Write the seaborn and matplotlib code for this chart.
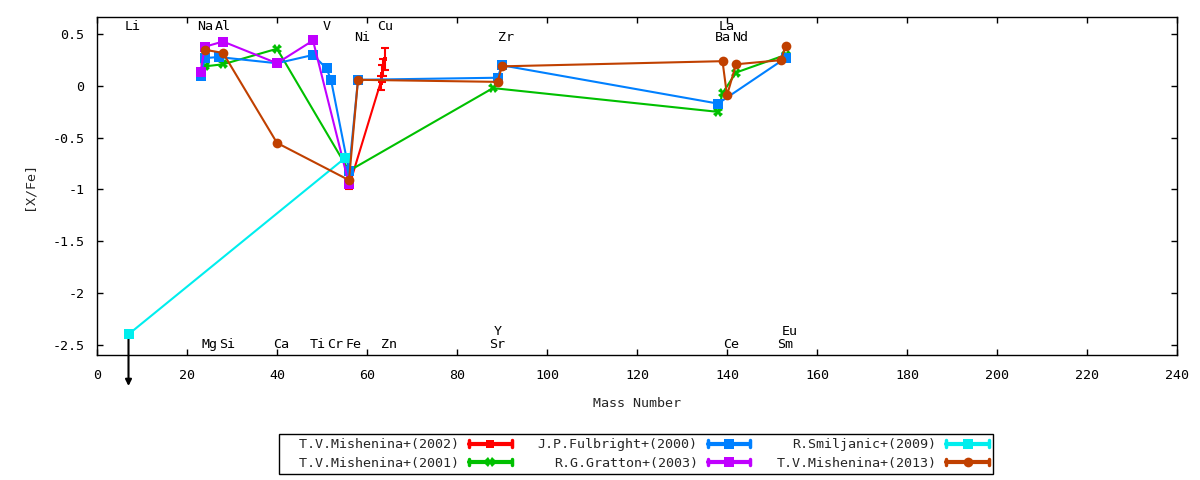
import matplotlib
matplotlib.use("Agg")
import matplotlib.pyplot as plt
import seaborn as sns
import pandas as pd
from matplotlib.lines import Line2D
from matplotlib.legend_handler import HandlerBase

# ---------------- data ----------------
mish2002_x = [56, 63, 63.3, 63.6, 64]
mish2002_y = [-0.97, 0.03, 0.12, 0.18, 0.26]
mish2002_err = [0.03, 0.07, 0.08, 0.08, 0.11]

mish2001_x = [24, 28, 40, 56, 88, 138, 139, 142, 153]
mish2001_y = [0.19, 0.21, 0.36, -0.82, -0.02, -0.25, -0.07, 0.13, 0.30]

fulb_x = [23, 24, 27, 40, 48, 51, 52, 56, 58, 89, 90, 138, 153]
fulb_y = [0.10, 0.27, 0.28, 0.22, 0.30, 0.17, 0.06, -0.82, 0.06, 0.08, 0.20, -0.17, 0.27]

grat_x = [23, 24, 28, 40, 48, 56]
grat_y = [0.14, 0.38, 0.43, 0.22, 0.44, -0.95]

smil_x = [7, 55]
smil_y = [-2.40, -0.70]
smil_limit_to = -2.90  # upper limit arrow for Li

mish2013_x = [24, 28, 40, 56, 58, 89, 90, 139, 140, 142, 152, 153]
mish2013_y = [0.35, 0.32, -0.55, -0.91, 0.06, 0.04, 0.19, 0.24, -0.09, 0.21, 0.25, 0.39]

labels = ["T.V.Mishenina+(2002)", "T.V.Mishenina+(2001)", "J.P.Fulbright+(2000)",
          "R.G.Gratton+(2003)", "R.Smiljanic+(2009)", "T.V.Mishenina+(2013)"]

elem_names = ["Li", "Na", "Al", "V", "Cu", "La", "Ni", "Zr", "Ba", "Nd",
              "Mg", "Si", "Ca", "Ti", "Cr", "Fe", "Zn", "Sr", "Ce", "Sm", "Y", "Eu"]
elem_mass = [7, 23, 27, 51, 63, 139, 58, 90, 138, 142,
             24, 28, 40, 48, 52, 56, 64, 88, 140, 152, 89, 153]
elem_ypos = [0.58, 0.58, 0.58, 0.58, 0.58, 0.58, 0.47, 0.47, 0.47, 0.47,
             -2.5, -2.5, -2.5, -2.5, -2.5, -2.5, -2.5, -2.5, -2.5, -2.5, -2.37, -2.37]

xticks = list(range(0, 241, 20))
yticks = [0.5, 0, -0.5, -1, -1.5, -2, -2.5]

# ---------------- style ----------------
sns.set_style("ticks")
plt.rcParams["font.family"] = ["DejaVu Sans Mono", "DejaVu Sans"]
plt.rcParams["axes.unicode_minus"] = False
FS = 9.6

colors = ["#ff0000", "#00c000", "#0080ff", "#c000ff", "#00eeee", "#c04000"]
markers = ["s", "X", "s", "s", "s", "o"]
msizes = [3.5, 7, 7, 7, 7, 7]

fig = plt.figure(figsize=(12, 4.8), dpi=100)
ax = fig.add_axes([97 / 1200, 1 - 355 / 480, 1080 / 1200, (355 - 17) / 480])

series = [(mish2002_x, mish2002_y), (mish2001_x, mish2001_y), (fulb_x, fulb_y),
          (grat_x, grat_y), (smil_x, smil_y), (mish2013_x, mish2013_y)]

for i, (xs, ys) in enumerate(series):
    df = pd.DataFrame({"x": xs, "y": ys})
    sns.lineplot(data=df, x="x", y="y", sort=False, estimator=None, ax=ax,
                 color=colors[i], marker=markers[i], markersize=msizes[i],
                 markeredgewidth=0, linewidth=1.5, legend=False, zorder=2 + i)
    if i == 0:
        ax.errorbar(xs, ys, yerr=mish2002_err, fmt="none", ecolor=colors[0],
                    elinewidth=1.5, capsize=3, capthick=1.5, zorder=2)

# Li upper-limit arrow
ax.annotate("", xy=(smil_x[0], smil_limit_to), xytext=(smil_x[0], smil_y[0]),
            arrowprops=dict(arrowstyle="-|>", color="black", lw=1.5,
                            shrinkA=0, shrinkB=0, mutation_scale=9),
            annotation_clip=False, zorder=1)

# element labels
for name, m, yp in zip(elem_names, elem_mass, elem_ypos):
    ax.text(m - 0.8, yp, name, ha="left", va="center", fontsize=FS, color="black")

ax.set_xlim(0, 240)
ax.set_ylim(-2.6, 0.667)
ax.set_xticks(xticks)
ax.set_yticks(yticks)
ax.set_yticklabels([("%g" % v) for v in yticks])
ax.tick_params(direction="in", top=True, right=True, length=4, width=1,
               labelsize=FS, colors="black")
ax.tick_params(axis="x", pad=10)
ax.tick_params(axis="y", pad=9)
for s in ax.spines.values():
    s.set_visible(True)
    s.set_color("black")
    s.set_linewidth(1)
ax.set_xlabel("Mass Number", fontsize=FS, labelpad=11)
ax.set_ylabel("[X/Fe]", fontsize=FS, labelpad=12)


# legend with gnuplot-like error-bar samples
class CapHandler(HandlerBase):
    def create_artists(self, legend, orig_handle, xdescent, ydescent, width,
                       height, fontsize, trans):
        c = orig_handle.get_color()
        y = height / 2 - ydescent
        x0 = -xdescent
        x1 = x0 + width
        h = height * 0.35
        arts = [
            Line2D([x0, x1], [y, y], color=c, lw=3),
            Line2D([x0, x0], [y - h, y + h], color=c, lw=2.5),
            Line2D([x1, x1], [y - h, y + h], color=c, lw=2.5),
            Line2D([(x0 + x1) / 2], [y], marker=orig_handle.get_marker(),
                   markersize=orig_handle.get_markersize(), color=c,
                   markeredgewidth=0, linestyle="none"),
        ]
        for a in arts:
            a.set_transform(trans)
        return arts


handles = []
for i in range(6):
    handles.append(Line2D([], [], color=colors[i], marker=markers[i],
                          markersize=max(msizes[i], 6)))
leg_labels = [("  " + l) if i < 2 else l for i, l in enumerate(labels)]
hmap = {h: CapHandler() for h in handles}
leg = fig.legend(handles, leg_labels, loc="center", bbox_to_anchor=(636 / 1200, 1 - 454 / 480),
                 ncol=3, markerfirst=False, handler_map=hmap, fontsize=FS,
                 frameon=True, fancybox=False, edgecolor="black", framealpha=1,
                 handlelength=3.2, columnspacing=1.95, labelspacing=0.4,
                 borderpad=0.3, handletextpad=0.75)
leg.get_frame().set_linewidth(1)

fig.savefig("out.png", dpi=100)
